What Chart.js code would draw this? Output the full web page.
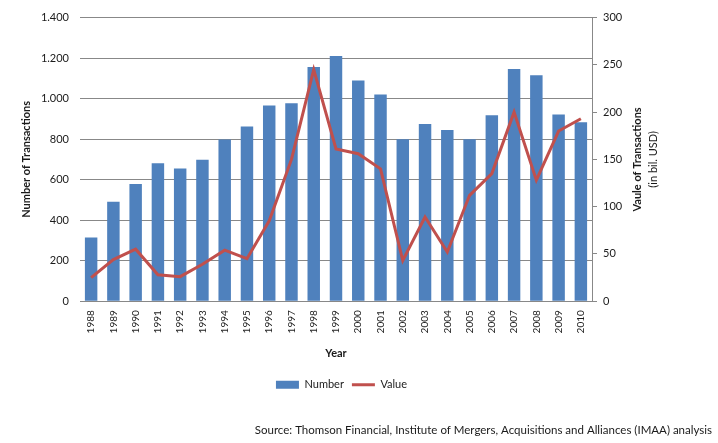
<!DOCTYPE html>
<html>
<head>
<meta charset="utf-8">
<script src="https://cdn.jsdelivr.net/npm/chart.js@4.4.0/dist/chart.umd.min.js"></script>
<style>
  html, body { margin: 0; padding: 0; background: #fff; }
  #wrap { width: 718px; height: 443px; position: relative; }
</style>
</head>
<body>
<div id="wrap"><canvas id="c" width="718" height="443"></canvas></div>
<script>
const years = ['1988','1989','1990','1991','1992','1993','1994','1995','1996','1997','1998','1999','2000','2001','2002','2003','2004','2005','2006','2007','2008','2009','2010'];
const numberOfTransactions = [314, 491, 579, 681, 655, 698, 798, 863, 966, 977, 1156, 1210, 1089, 1020, 800, 875, 845, 800, 918, 1146, 1115, 922, 884];
const valueOfTransactions = [25, 44, 55, 28, 26, 39, 54, 45, 85, 150, 245, 161, 156, 140, 43, 89, 52, 112, 135, 200, 128, 180, 193];
const leftTickValues = [0, 200, 400, 600, 800, 1000, 1200, 1400];
const rightTickValues = [0, 50, 100, 150, 200, 250, 300];
const seriesNames = ['Number', 'Value'];
const leftTitle = 'Number of Transactions';
const rightTitle = 'Vaule of Transactions';
const rightSubTitle = '(in bil. USD)';
const xTitle = 'Year';
const sourceText = 'Source: Thomson Financial, Institute of Mergers, Acquisitions and Alliances (IMAA) analysis';

const BLUE = '#4F81BD';
const RED = '#C0504D';
const GRID = '#888888';
const TEXT = '#1a1a1a';
const FONT = 'Lato, "Liberation Sans", Arial, sans-serif';

function fmtThousands(v) {
  return String(v).replace(/\B(?=(\d{3})+(?!\d))/g, '.');
}

const rightTitlePlugin = {
  id: 'rightTitle',
  afterLayout(chart) {
    if (chart.legend) {
      chart.legend.left += 5.5;
      chart.legend.right += 5.5;
    }
  },
  afterDraw(chart) {
    const ctx = chart.ctx;
    const ca = chart.chartArea;
    const cy = (ca.top + ca.bottom) / 2;
    ctx.save();
    ctx.fillStyle = TEXT;
    ctx.textAlign = 'center';
    ctx.textBaseline = 'middle';
    ctx.translate(637, cy);
    ctx.rotate(-Math.PI / 2);
    ctx.font = 'bold 11px ' + FONT;
    ctx.fillText(rightTitle, 0, 0);
    ctx.restore();
    ctx.save();
    ctx.fillStyle = TEXT;
    ctx.textAlign = 'center';
    ctx.textBaseline = 'middle';
    ctx.translate(653, cy);
    ctx.rotate(-Math.PI / 2);
    ctx.font = '11px ' + FONT;
    ctx.fillText(rightSubTitle, 0, 0);
    ctx.restore();
  }
};

new Chart(document.getElementById('c'), {
  type: 'bar',
  data: {
    labels: years,
    datasets: [
      {
        type: 'bar',
        label: seriesNames[0],
        data: numberOfTransactions,
        backgroundColor: BLUE,
        borderWidth: 0,
        yAxisID: 'y',
        barPercentage: 0.56,
        categoryPercentage: 1.0,
        order: 2
      },
      {
        type: 'line',
        label: seriesNames[1],
        data: valueOfTransactions,
        borderColor: RED,
        backgroundColor: RED,
        borderWidth: 3,
        pointRadius: 0,
        tension: 0,
        yAxisID: 'y1',
        order: 1
      }
    ]
  },
  options: {
    responsive: false,
    animation: false,
    devicePixelRatio: 1,
    layout: { padding: { left: 0, right: 6, top: 7.4, bottom: 0 } },
    plugins: {
      tooltip: { enabled: false },
      legend: {
        display: true,
        position: 'bottom',
        align: 'center',
        fullSize: false,
        labels: {
          usePointStyle: true,
          pointStyleWidth: 23,
          boxHeight: 8,
          padding: 8,
          color: TEXT,
          font: { family: FONT, size: 11 },
          generateLabels(chart) {
            return [
              { text: seriesNames[0], fillStyle: BLUE, strokeStyle: BLUE, lineWidth: 0, pointStyle: 'rect', datasetIndex: 0, fontColor: TEXT },
              { text: seriesNames[1], fillStyle: RED, strokeStyle: RED, lineWidth: 3, pointStyle: 'line', datasetIndex: 1, fontColor: TEXT }
            ];
          }
        }
      },
      subtitle: {
        display: true,
        position: 'bottom',
        align: 'end',
        text: sourceText,
        color: TEXT,
        font: { family: FONT, size: 11.5, weight: 'normal' },
        padding: { top: 23, bottom: 6 }
      },
      title: { display: false }
    },
    scales: {
      x: {
        type: 'category',
        offset: true,
        grid: { display: false, drawTicks: false },
        border: { display: true, color: GRID, width: 1 },
        ticks: {
          minRotation: 90,
          maxRotation: 90,
          autoSkip: false,
          padding: 9,
          color: TEXT,
          font: { family: FONT, size: 10 }
        },
        title: {
          display: true,
          text: xTitle,
          color: TEXT,
          font: { family: FONT, size: 11, weight: 'bold' },
          padding: { top: 0, bottom: 11.5 }
        },
        afterFit(scale) { scale.height = 70; }
      },
      y: {
        position: 'left',
        min: 0,
        max: 1400,
        afterBuildTicks(scale) { scale.ticks = leftTickValues.map(v => ({ value: v })); },
        grid: { color: GRID, lineWidth: 1, drawTicks: false },
        border: { display: false },
        ticks: {
          padding: 11,
          color: TEXT,
          font: { family: FONT, size: 11 },
          callback: (v) => fmtThousands(v)
        },
        title: {
          display: true,
          text: leftTitle,
          color: TEXT,
          font: { family: FONT, size: 11, weight: 'bold' },
          padding: { top: 20, bottom: 0 }
        },
        afterFit(scale) { scale.width = 80; }
      },
      y1: {
        position: 'right',
        min: 0,
        max: 300,
        afterBuildTicks(scale) { scale.ticks = rightTickValues.map(v => ({ value: v })); },
        grid: { drawOnChartArea: false, drawTicks: true, tickLength: 5, color: GRID, lineWidth: 1 },
        border: { display: true, color: GRID, width: 1 },
        ticks: {
          padding: 6,
          color: TEXT,
          font: { family: FONT, size: 11 }
        },
        afterFit(scale) { scale.width = 120; }
      }
    }
  },
  plugins: [rightTitlePlugin]
});
</script>
</body>
</html>
